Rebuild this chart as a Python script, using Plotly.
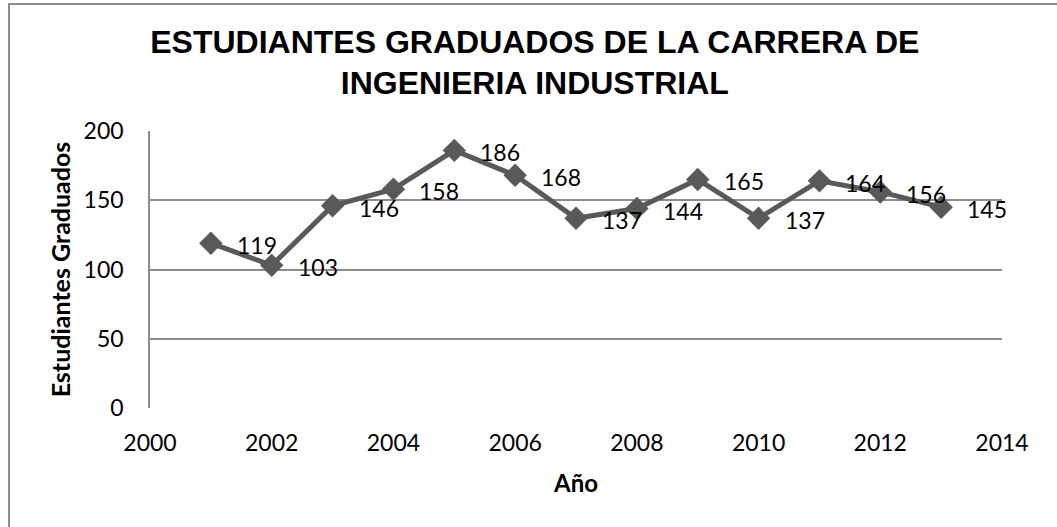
import plotly.graph_objects as go

years = [2001, 2002, 2003, 2004, 2005, 2006, 2007, 2008, 2009, 2010, 2011, 2012, 2013]
graduados = [119, 103, 146, 158, 186, 168, 137, 144, 165, 137, 164, 156, 145]
y_ticks = [0, 50, 100, 150, 200]
x_ticks = [2000, 2002, 2004, 2006, 2008, 2010, 2012, 2014]

LINE = '#595959'
FONT = 'Lato, "Open Sans", sans-serif'

fig = go.Figure()
fig.add_trace(go.Scatter(
    x=years, y=graduados,
    mode='lines+markers',
    line=dict(color=LINE, width=5),
    marker=dict(symbol='diamond', size=18, color=LINE),
    showlegend=False,
    hoverinfo='x+y'
))

# data labels to the right of each point, like the Excel original
for xv, yv in zip(years, graduados):
    fig.add_annotation(
        x=xv, y=yv, text=str(yv), showarrow=False,
        xanchor='left', yanchor='middle', xshift=24, yshift=-2,
        font=dict(family=FONT, size=23, color='#000000')
    )

fig.update_layout(
    width=1057, height=527,
    margin=dict(l=150, r=55, t=131, b=119),
    paper_bgcolor='white', plot_bgcolor='white',
    title=dict(
        text='ESTUDIANTES GRADUADOS DE LA CARRERA DE<br>INGENIERIA INDUSTRIAL',
        x=0.506, xanchor='center', y=0.90, yanchor='top',
        font=dict(family='"Liberation Sans", Arial, sans-serif', size=32, color='#000000', weight='bold')
    ),
    shapes=[dict(
        type='rect', xref='paper', yref='paper',
        x0=-0.1655, x1=1.3, y0=-0.7, y1=1.4585,
        line=dict(color='#8c8c8c', width=2), layer='below'
    )]
)

fig.update_xaxes(
    range=[2000, 2014], tickvals=x_ticks, ticktext=[str(t) for t in x_ticks],
    showgrid=False, showline=False, zeroline=False, ticks='',
    tickfont=dict(family=FONT, size=23, color='#000000'), ticklabelstandoff=19,
    title=dict(text='<b>Año</b>', font=dict(family=FONT, size=24, color='#000000'), standoff=20)
)
fig.update_yaxes(
    range=[0, 200], tickvals=y_ticks,
    showgrid=True, gridcolor='#8c8c8c', gridwidth=1.5,
    showline=True, linecolor='#8c8c8c', linewidth=1.5, zeroline=False, ticks='',
    tickfont=dict(family=FONT, size=23, color='#000000'), ticklabelstandoff=20,
    title=dict(text='<b>Estudiantes Graduados</b>', font=dict(family=FONT, size=25, color='#000000'), standoff=6)
)

fig.write_html("out.html", config={'displayModeBar': False},
               post_script="document.body.style.margin='0';")
